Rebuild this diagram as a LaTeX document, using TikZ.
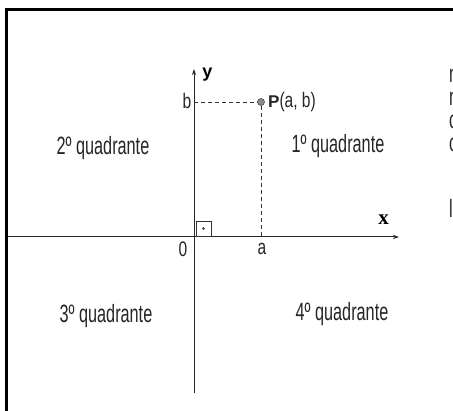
\documentclass[tikz,border=0pt]{standalone}
\usepackage{fontspec}
\setmainfont{Liberation Sans}
\newfontfamily\narrowlbl[FakeStretch=0.74]{Liberation Sans}
\newfontfamily\quadfont[FakeStretch=0.65]{Liberation Sans}
\newfontfamily\serifx{Liberation Serif}
\usetikzlibrary{arrows.meta}
\begin{document}
\begin{tikzpicture}[x=1pt,y=-1pt,
  lbl/.style={font=\quadfont\fontsize{25}{27}\selectfont, inner sep=0pt, text=black!85},
  small/.style={font=\narrowlbl\fontsize{21}{23}\selectfont, inner sep=0pt, text=black!85},
  axis/.style={line width=1pt, draw=black!85, -{Stealth[length=6pt,width=4pt]}},
  guide/.style={line width=0.9pt, draw=black!80, dash pattern=on 4pt off 3pt},
  frame/.style={line width=3pt, draw=black}]
\useasboundingbox (0,0) rectangle (453,411);
\fill[white] (0,0) rectangle (453,411);
% frame
\draw[frame] (6.5,411) -- (6.5,9.5) -- (453,9.5);
% axes
\coordinate (xs) at (8,237);
\coordinate (xe) at (399,237);
\coordinate (yb) at (194,393);
\coordinate (yt) at (194,69);
\coordinate (O) at (194,237);
\draw[axis] (xs) -- (xe);
\draw[axis] (yb) -- (yt);
% point P
\coordinate (bm) at (194,102);
\coordinate (am) at (261,237);
\node[circle, fill=black!45, draw=black!70, line width=0.6pt, minimum size=7pt, inner sep=0pt] (P) at (261,102) {};
\draw[guide] (bm) -- (P);
\draw[guide] (P) -- (am);
% right angle mark
\draw[line width=0.8pt, draw=black!80] (196,236) rectangle (211,221);
\fill[black!80] (203.5,228.5) circle (1.3);
% labels
\node[font=\bfseries\fontsize{18}{20}\selectfont, inner sep=0pt] (ylab) at (207.5,75) {y};
\node[font=\serifx\bfseries\fontsize{21}{23}\selectfont, inner sep=0pt] (xlab) at (383.5,219.5) {x};
\node[small] (blab) at (187,101) {b};
\node[small] (olab) at (183,249) {0};
\node[small] (alab) at (262,249) {a};
\node[small, anchor=west] (plab) at (268,102) {\normalfont\bfseries\fontsize{17}{19}\selectfont P\narrowlbl\mdseries\fontsize{21}{23}\selectfont(a, b)};
\node[lbl] (q2) at (103,148) {2º quadrante};
\node[lbl] (q1) at (338,146) {1º quadrante};
\node[lbl] (q3) at (106,316) {3º quadrante};
\node[lbl] (q4) at (342,314) {4º quadrante};
% cut-off text at right edge, as in the reference
\begin{scope}
\clip (446,0) rectangle (453,411);
\node[lbl, anchor=west] (r1) at (449,76) {n};
\node[lbl, anchor=west] (r2) at (449,99) {n};
\node[lbl, anchor=west] (r3) at (449,122) {c};
\node[lbl, anchor=west] (r4) at (449,145) {c};
\node[lbl, anchor=west] (r5) at (449,208) {l};
\end{scope}
\end{tikzpicture}
\end{document}
